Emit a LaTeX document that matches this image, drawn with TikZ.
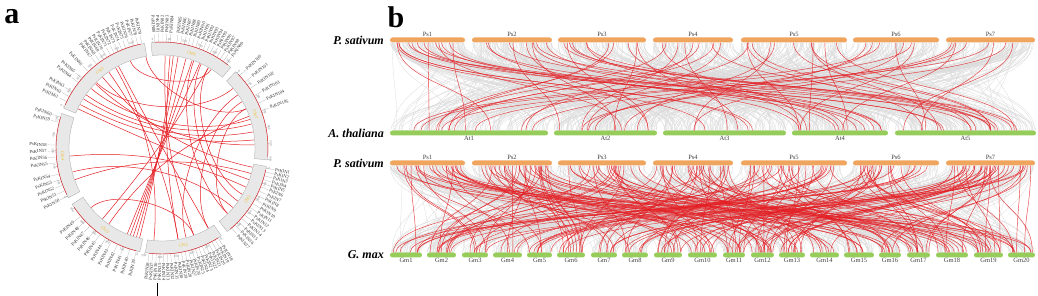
\documentclass[tikz,border=0pt]{standalone}
\usepackage{fontspec}
\setmainfont{Liberation Serif}
\usetikzlibrary{calc}
\definecolor{psorange}{RGB}{240,165,95}
\definecolor{gmgreen}{RGB}{150,205,90}
\definecolor{linkred}{RGB}{228,30,35}
\definecolor{chrgold}{RGB}{238,190,40}
\definecolor{ringgray}{RGB}{232,232,232}
\begin{document}
\begin{tikzpicture}[x=1pt,y=-1pt,
  psbar/.style={fill=psorange, rounded corners=2.5pt, minimum height=5pt, inner sep=0pt},
  gmbar/.style={fill=gmgreen, rounded corners=2.5pt, minimum height=5pt, inner sep=0pt},
  barname/.style={font=\fontsize{6.5}{7}\selectfont, text=black!75, inner sep=0.5pt},
  rowlab/.style={font=\fontsize{12}{14}\selectfont\bfseries\itshape, anchor=east, inner sep=0pt},
  panlab/.style={font=\fontsize{30}{32}\selectfont\bfseries, inner sep=0pt},
  synt/.style={gray!28, line width=0.3pt},
  redlink/.style={linkred, line width=0.45pt, opacity=0.85},
  chord/.style={linkred, line width=0.5pt},
  genelab/.style={font=\fontsize{4.6}{5}\selectfont, text=black!80, inner sep=0.2pt},
  ticklab/.style={font=\fontsize{3.2}{4}\selectfont, text=gray, inner sep=0.2pt},
  chrlab/.style={font=\fontsize{4.5}{4.5}\selectfont, text=chrgold, inner sep=0pt},
  leader/.style={gray!70, line width=0.2pt}]
\useasboundingbox (0,0) rectangle (1038,296);

% panel letters
\node[panlab] (pa) at (12,17) {a};
\node[panlab] (pb) at (396,17) {b};

% ---------- a: circos ----------
\begin{scope}[shift={(162,148)}, yscale=-1]
\foreach \c/\s/\e in {1/-10/-52, 2/-56/-99, 3/-102/-148, 4/208/161, 5/158/99.5, 6/96/49.5, 7/46/-6.5}{
  \fill[ringgray, draw=gray!70, line width=0.3pt] (\s:93) arc[start angle=\s, end angle=\e, radius=93] -- (\e:106) arc[start angle=\e, end angle=\s, radius=106] -- cycle;
  \pgfmathsetmacro\sr{\s-2}
  \pgfmathsetmacro\er{\e+2}
  \draw[linkred, line width=0.45pt] (\sr:106) arc[start angle=\sr, end angle=\er, radius=106];
  \pgfmathsetmacro\m{(\s+\e)/2}
  \pgfmathsetmacro\sn{sin(\m)}
  \ifdim\sn pt<0pt \pgfmathsetmacro\rr{\m+90}\else\pgfmathsetmacro\rr{\m-90}\fi
  \node[chrlab, rotate=\rr] (chr\c) at (\m:99.5) {Chr\c};
  % ticks
  \pgfmathtruncatemacro\nt{(\s-\e)/8.5}
  \foreach \t in {0,...,\nt}{
    \pgfmathsetmacro\a{\s-1-\t*8.5}
    \pgfmathtruncatemacro\v{\t*100}
    \pgfmathsetmacro\sa{sin(\a)}
    \draw[gray, line width=0.2pt] (\a:106) -- (\a:107.5);
    \ifdim\sa pt<0pt
      \pgfmathsetmacro\ra{\a+90}
      \node[ticklab, rotate=\ra, anchor=north] (tk\c-\t) at (\a:107.6) {\v};
    \else
      \pgfmathsetmacro\ra{\a-90}
      \node[ticklab, rotate=\ra, anchor=south] (tk\c-\t) at (\a:107.6) {\v};
    \fi
  }
}
% gene labels
\foreach \na/\nb/\sa/\st in {1/6/-11/-2.1, 7/17/-24/-2.5, 18/38/-58/-1.95, 39/49/-104/-3.6,
    50/54/207/-3.2, 55/58/188/-3.2, 59/60/166/-3, 61/63/154/-3, 64/65/142/-3, 66/66/134/-3,
    67/79/128/-2.25, 80/84/94/-2.1, 85/99/82/-2.1, 100/105/43/-4.5}{
  \foreach \n in {\na,...,\nb}{
    \pgfmathsetmacro\a{\sa+(\n-\na)*\st}
    \pgfmathsetmacro\cs{cos(\a)}
    \draw[leader] (\a:106.5) -- (\a:114.5);
    \ifdim\cs pt<0pt
      \pgfmathsetmacro\r{\a+180}
      \node[genelab, rotate=\r, anchor=east] (g\n) at (\a:115) {PsKIN\n};
    \else
      \node[genelab, rotate=\a, anchor=west] (g\n) at (\a:115) {PsKIN\n};
    \fi
  }
}
% chords
\foreach \a/\b in {148/10, 152/5, 145/15, 140/18, 136/2, 130/-12, 155/-20,
    -106/80, -108/75, -110/71, -104/83, -112/66,
    65/-35, 70/-45, 60/-30, 88/-70, 85/-80,
    200/-16, 195/-40, 185/-25,
    125/-80, 118/-60, 120/-95,
    30/-60, 25/-45, 35/-75,
    110/58, 100/25, 135/40,
    -130/60, -125/20, -140/-70}{
  \pgfmathsetmacro\dd{min(mod(\a-\b+720,360),360-mod(\a-\b+720,360))}
  \pgfmathsetmacro\rc{92-78*\dd/180}
  \draw[chord] (\a:92.5) .. controls (\a:\rc) and (\b:\rc) .. (\b:92.5);
}
\end{scope}
\draw[line width=1pt] (157,283) -- (157,296);

% ---------- b: synteny ----------
\node[rowlab] (sp1) at (384,40) {P. sativum};
\node[rowlab] (at) at (384,133) {A. thaliana};
\node[rowlab] (sp2) at (384,163) {P. sativum};
\node[rowlab] (gm) at (384,255) {G. max};

\foreach \n/\xa/\xb in {1/390/465, 2/472/552, 3/558/646, 4/653/733, 5/741/847, 6/853/939, 7/946/1035}{
  \node[psbar, minimum width={(\xb-\xa)*1pt}, label={[barname]above:Ps\n}] (Psa\n) at ({(\xa+\xb)/2},40) {};
  \node[psbar, minimum width={(\xb-\xa)*1pt}, label={[barname]above:Ps\n}] (Psb\n) at ({(\xa+\xb)/2},163) {};
}
\foreach \n/\xa/\xb in {1/390/548, 2/554/657, 3/663/786, 4/792/888, 5/895/1036}{
  \node[gmbar, minimum width={(\xb-\xa)*1pt}, label={[barname]below:At\n}] (At\n) at ({(\xa+\xb)/2},133) {};
}
\foreach \n/\xa/\xb in {1/390/422, 2/427/456, 3/462/488, 4/493/522, 5/527/552, 6/557/585, 7/591/617,
    8/622/648, 9/654/682, 10/688/717, 11/723/745, 12/751/774, 13/779/805, 14/810/839,
    15/844/874, 16/879/901, 17/907/930, 18/936/968, 19/974/1003, 20/1008/1035}{
  \node[gmbar, minimum width={(\xb-\xa)*1pt}, label={[barname]below:Gm\n}] (Gm\n) at ({(\xa+\xb)/2},255) {};
}

\pgfmathsetseed{11}
% background collinear blocks
\foreach \k in {1,...,750}{
  \pgfmathrandominteger{\i}{1}{7}
  \pgfmathrandominteger{\j}{1}{5}
  \pgfmathsetmacro{\f}{rnd}
  \pgfmathsetmacro{\g}{rnd}
  \draw[synt] ($(Psa\i.south west)!\f!(Psa\i.south east)$) .. controls +(0,44) and +(0,-44) .. ($(At\j.north west)!\g!(At\j.north east)$);
}
\foreach \k in {1,...,750}{
  \pgfmathrandominteger{\i}{1}{7}
  \pgfmathrandominteger{\j}{1}{20}
  \pgfmathsetmacro{\f}{rnd}
  \pgfmathsetmacro{\g}{rnd}
  \draw[synt] ($(Psb\i.south west)!\f!(Psb\i.south east)$) .. controls +(0,44) and +(0,-44) .. ($(Gm\j.north west)!\g!(Gm\j.north east)$);
}
% kinase pairs
\foreach \k in {1,...,70}{
  \pgfmathrandominteger{\i}{1}{7}
  \pgfmathrandominteger{\j}{1}{5}
  \pgfmathsetmacro{\f}{0.05+0.9*rnd}
  \pgfmathsetmacro{\g}{0.05+0.9*rnd}
  \draw[redlink] ($(Psa\i.south west)!\f!(Psa\i.south east)$) .. controls +(0,44) and +(0,-44) .. ($(At\j.north west)!\g!(At\j.north east)$);
}
\foreach \k in {1,...,210}{
  \pgfmathrandominteger{\i}{1}{7}
  \pgfmathrandominteger{\j}{1}{20}
  \pgfmathsetmacro{\f}{0.05+0.9*rnd}
  \pgfmathsetmacro{\g}{0.05+0.9*rnd}
  \draw[redlink] ($(Psb\i.south west)!\f!(Psb\i.south east)$) .. controls +(0,44) and +(0,-44) .. ($(Gm\j.north west)!\g!(Gm\j.north east)$);
}
\end{tikzpicture}
\end{document}
